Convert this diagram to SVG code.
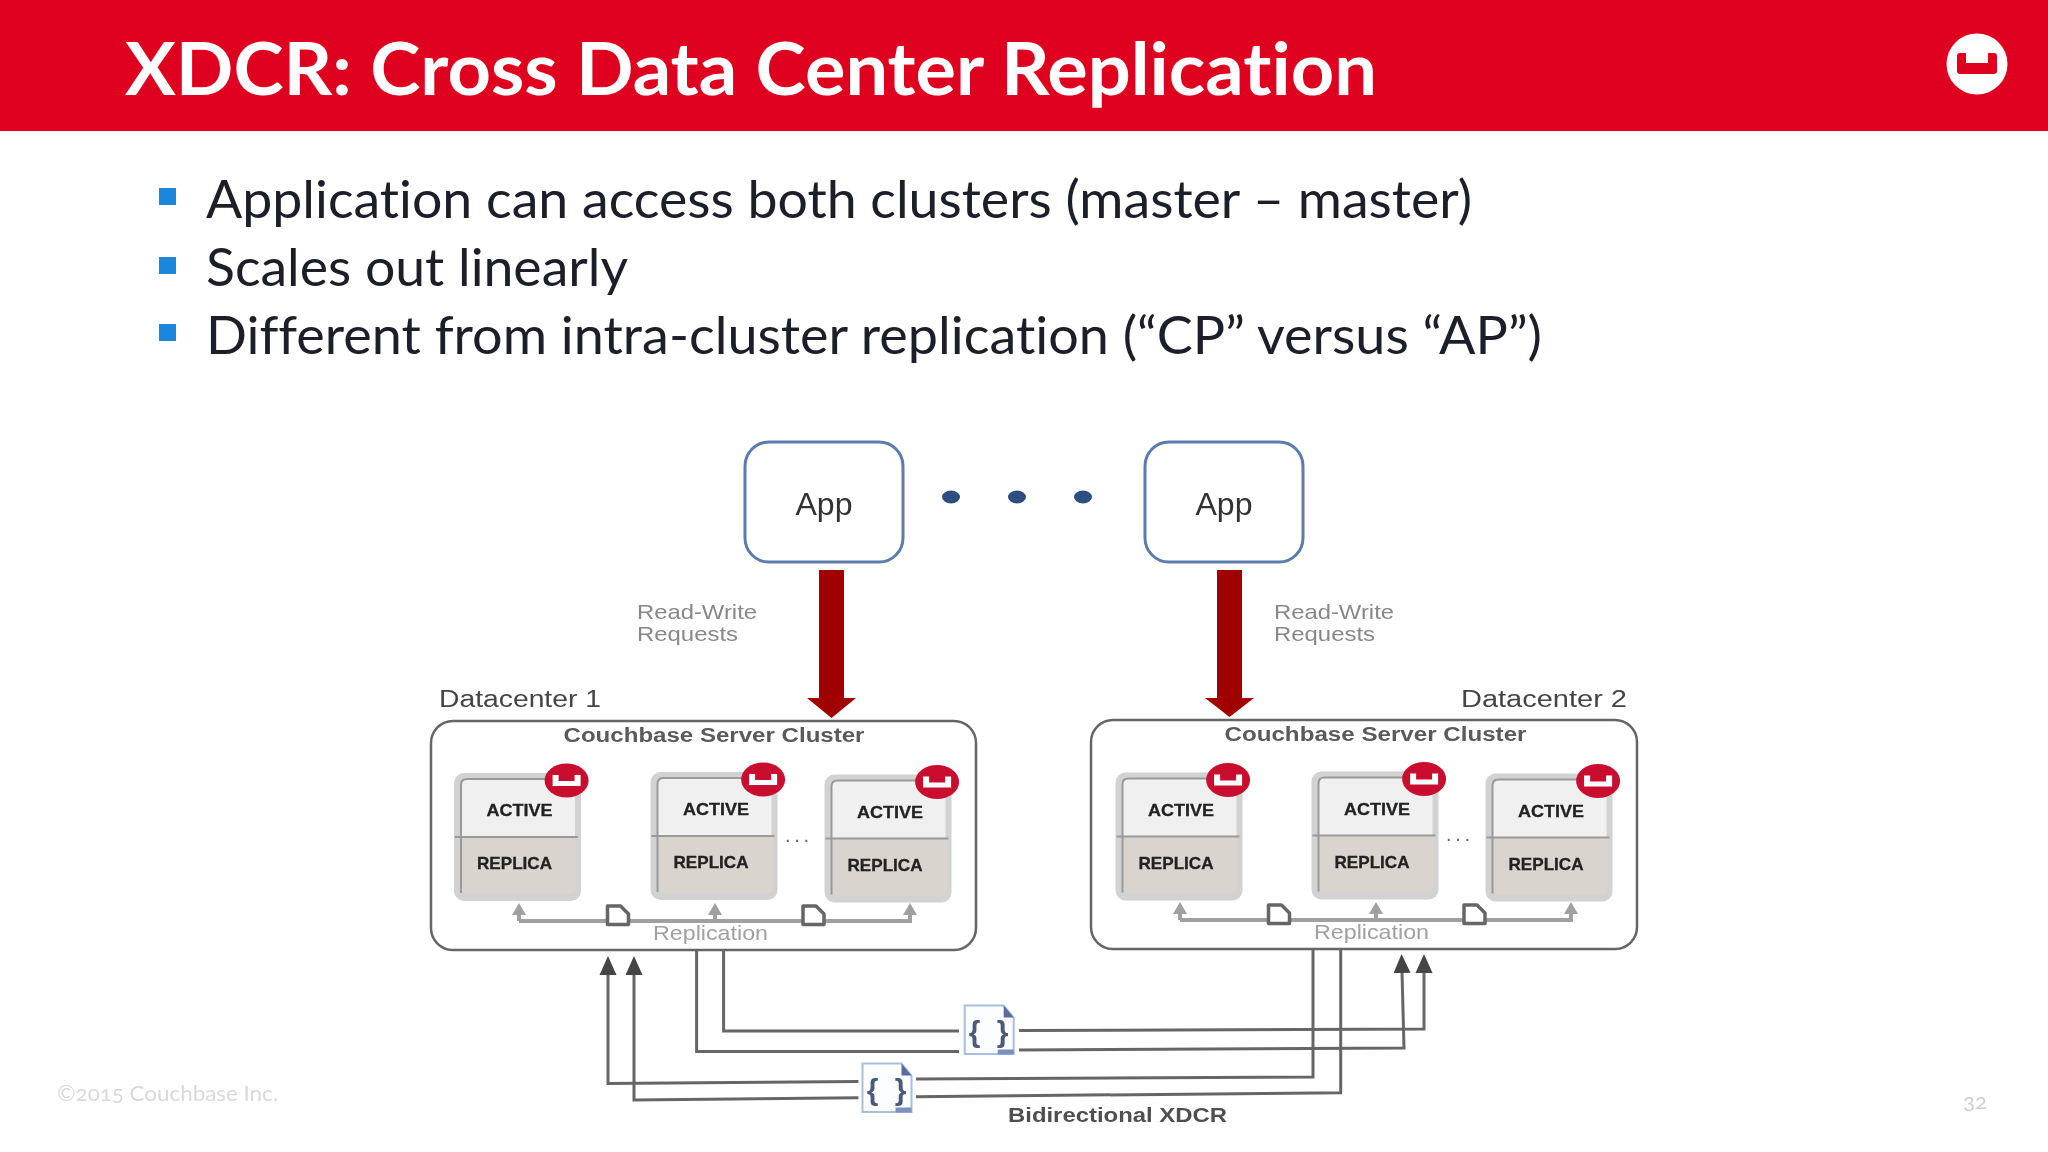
<svg xmlns="http://www.w3.org/2000/svg" width="2048" height="1152" viewBox="0 0 2048 1152">
<style>
.sans{font-family:"Liberation Sans",Arial,sans-serif}
.lato{font-family:Lato,"Open Sans",sans-serif;font-variant-ligatures:none}
.body{font-size:53px;fill:#1e1e28}
.bul{fill:#1a87dc}
.app-box{fill:#fff;stroke:#5b7cab;stroke-width:3}
.app-t{font-size:31px;fill:#333;text-anchor:middle}
.rw{font-size:21px;fill:#888}
.dc{font-size:23px;fill:#444}
.cl{fill:#fff;stroke:#666;stroke-width:2.5}
.clt{font-size:20px;font-weight:bold;fill:#5a5a5a}
.act{font-size:17px;font-weight:bold;fill:#222;stroke:#222;stroke-width:.3}
.rep{font-size:21px;fill:#a0a0a0}
.dots{font-size:20px;fill:#666}
.red{fill:#a00000}
.x{fill:none;stroke:#666;stroke-width:3;marker-end:url(#dk)}
.xp{fill:none;stroke:#666;stroke-width:3}
.g{fill:none;stroke:#a0a0a0;stroke-width:4}
.ga{fill:none;stroke:#a0a0a0;stroke-width:4;marker-end:url(#gr)}
.doc{fill:#fff;stroke:#666;stroke-width:3.5;stroke-linejoin:round}
.bd{font-size:30px;font-weight:bold;fill:#4a5a7a;text-anchor:middle}
</style>
<defs>
<filter id="soft" x="0" y="0" width="100%" height="100%" filterUnits="userSpaceOnUse"><feGaussianBlur stdDeviation="0.7"/></filter>
<marker id="dk" markerUnits="userSpaceOnUse" markerWidth="19" markerHeight="20" viewBox="0 0 19 20" refX="1" refY="10" orient="auto"><path d="M0 1.5 L19 10 L0 18.500Z" fill="#444"/></marker>
<marker id="gr" markerUnits="userSpaceOnUse" markerWidth="12" markerHeight="14" viewBox="0 0 12 14" refX="1" refY="7" orient="auto"><path d="M0 0 L12 7 L0 14Z" fill="#a0a0a0"/></marker>
<g id="body">
<rect x="0" y="0" width="127" height="128" rx="10" fill="#d2d2d2"/>
<path d="M7 12 Q7 6 13 6 H121 V64 H7Z" fill="#f0f0f0"/>
<path d="M7 64 H122 V115 Q122 121 116 121 H13 Q7 121 7 115Z" fill="#d9d5ce"/>
<path d="M7 120 V12 Q7 6 13 6 H118" fill="none" stroke="#999" stroke-width="2"/>
<path d="M1 64 H124" stroke="#999" stroke-width="2"/>
<ellipse cx="112.600" cy="7.500" rx="22" ry="17" fill="#c8102e"/>
<path d="M98.600 2 H104.600 V8 H120.600 V2 H126.600 V13 H98.600Z" fill="#fff"/>
</g>
<g id="repdoc"><path class="doc" d="M0 0 H13 L21 8 V18.500 H0Z"/></g>
<g id="xdoc">
<path d="M0 0 H39 L49 12 V48.500 H0Z" fill="#fcfdff" stroke="#a5bfdf" stroke-width="2"/>
<path d="M39 0 L49 12 H39Z" fill="#5a6a9a"/>
<rect x="33" y="44" width="16" height="5" fill="#7f8fc0"/>
</g>
</defs>

<rect width="2048" height="1152" fill="#fff"/>
<g id="header">
<rect width="2048" height="131" fill="#df001f"/>
<text class="lato" x="125" y="95" font-size="72" font-weight="700" fill="#fff" textLength="1252" lengthAdjust="spacingAndGlyphs">XDCR: Cross Data Center Replication</text>
<circle cx="1977" cy="64" r="30.500" fill="#fff"/>
<path d="M1957 56 Q1957 53 1960 53 H1966 V63 H1988 V53 H1994 Q1997 53 1997 56 V71 Q1997 74 1994 74 H1960 Q1957 74 1957 71Z" fill="#df001f"/>
</g>
<g id="bullets">
<rect class="bul" x="159" y="188" width="17" height="17"/>
<rect class="bul" x="159" y="257" width="17" height="17"/>
<rect class="bul" x="159" y="324" width="17" height="17"/>
<text class="lato body" x="206" y="218" textLength="1266" lengthAdjust="spacingAndGlyphs">Application can access both clusters (master – master)</text>
<text class="lato body" x="206" y="286" textLength="422" lengthAdjust="spacingAndGlyphs">Scales out linearly</text>
<text class="lato body" x="206" y="354" textLength="1336" lengthAdjust="spacingAndGlyphs">Different from intra-cluster replication (“CP” versus “AP”)</text>
</g>

<g id="diagram" filter="url(#soft)">
<g id="app-1"><rect class="app-box" x="745" y="442" width="158" height="120" rx="24"/><text class="sans app-t" x="824" y="515" textLength="57" lengthAdjust="spacingAndGlyphs">App</text></g>
<g id="app-2"><rect class="app-box" x="1145" y="442" width="158" height="120" rx="24"/><text class="sans app-t" x="1224" y="515" textLength="57" lengthAdjust="spacingAndGlyphs">App</text></g>
<g id="ellipsis-dots" fill="#2f4d80"><ellipse cx="951" cy="497" rx="9" ry="6.500"/><ellipse cx="1017" cy="497" rx="9" ry="6.500"/><ellipse cx="1083" cy="497" rx="9" ry="6.500"/></g>

<g id="labels">
<text class="sans rw" x="637" y="619" textLength="120" lengthAdjust="spacingAndGlyphs">Read-Write</text>
<text class="sans rw" x="637" y="641" textLength="101" lengthAdjust="spacingAndGlyphs">Requests</text>
<text class="sans rw" x="1274" y="619" textLength="120" lengthAdjust="spacingAndGlyphs">Read-Write</text>
<text class="sans rw" x="1274" y="641" textLength="101" lengthAdjust="spacingAndGlyphs">Requests</text>
<text class="sans dc" x="439" y="707" textLength="162" lengthAdjust="spacingAndGlyphs">Datacenter 1</text>
<text class="sans dc" x="1461" y="707" textLength="166" lengthAdjust="spacingAndGlyphs">Datacenter 2</text>
</g>

<g id="cluster-1">
<rect class="cl" x="431" y="721" width="545" height="229" rx="22"/>
<text class="sans clt" x="563.500" y="742" textLength="301" lengthAdjust="spacingAndGlyphs">Couchbase Server Cluster</text>
<text class="sans rep" x="653" y="940" textLength="115" lengthAdjust="spacingAndGlyphs">Replication</text>
<text class="sans dots" x="785" y="842" textLength="24">...</text>
</g>
<g id="cluster-2">
<rect class="cl" x="1091" y="720" width="546" height="229" rx="22"/>
<text class="sans clt" x="1224.500" y="741" textLength="302" lengthAdjust="spacingAndGlyphs">Couchbase Server Cluster</text>
<text class="sans rep" x="1314" y="939" textLength="115" lengthAdjust="spacingAndGlyphs">Replication</text>
<text class="sans dots" x="1446" y="841" textLength="24">...</text>
</g>

<g id="node-1-1" transform="translate(454 773)"><use href="#body"/><text class="sans act" x="32.500" y="43" textLength="66" lengthAdjust="spacingAndGlyphs">ACTIVE</text><text class="sans act" x="23" y="96" textLength="75" lengthAdjust="spacingAndGlyphs">REPLICA</text></g>
<g id="node-1-2" transform="translate(650.500 772)"><use href="#body"/><text class="sans act" x="32.500" y="43" textLength="66" lengthAdjust="spacingAndGlyphs">ACTIVE</text><text class="sans act" x="23" y="96" textLength="75" lengthAdjust="spacingAndGlyphs">REPLICA</text></g>
<g id="node-1-3" transform="translate(824.500 774.500)"><use href="#body"/><text class="sans act" x="32.500" y="43" textLength="66" lengthAdjust="spacingAndGlyphs">ACTIVE</text><text class="sans act" x="23" y="96" textLength="75" lengthAdjust="spacingAndGlyphs">REPLICA</text></g>
<g id="node-2-1" transform="translate(1115.500 772.500)"><use href="#body"/><text class="sans act" x="32.500" y="43" textLength="66" lengthAdjust="spacingAndGlyphs">ACTIVE</text><text class="sans act" x="23" y="96" textLength="75" lengthAdjust="spacingAndGlyphs">REPLICA</text></g>
<g id="node-2-2" transform="translate(1311.500 771.500)"><use href="#body"/><text class="sans act" x="32.500" y="43" textLength="66" lengthAdjust="spacingAndGlyphs">ACTIVE</text><text class="sans act" x="23" y="96" textLength="75" lengthAdjust="spacingAndGlyphs">REPLICA</text></g>
<g id="node-2-3" transform="translate(1485.500 773.500)"><use href="#body"/><text class="sans act" x="32.500" y="43" textLength="66" lengthAdjust="spacingAndGlyphs">ACTIVE</text><text class="sans act" x="23" y="96" textLength="75" lengthAdjust="spacingAndGlyphs">REPLICA</text></g>

<g id="connectors">
<polygon class="red" points="819,570 844,570 844,698 856,698 831.500,718 807,698 819,698"/>
<polygon class="red" points="1217,570 1242,570 1242,698 1254,698 1229.500,717 1205,698 1217,698"/>

<path class="g" d="M519 921 H912"/>
<path class="ga" d="M519 921 V914"/><path class="ga" d="M715 921 V914"/><path class="ga" d="M910 921 V914"/>
<use href="#repdoc" x="607.500" y="906"/><use href="#repdoc" x="803" y="906"/>
<path class="g" d="M1180 920 H1573"/>
<path class="ga" d="M1180 920 V913"/><path class="ga" d="M1376 920 V913"/><path class="ga" d="M1571 920 V913"/>
<use href="#repdoc" x="1268.500" y="905"/><use href="#repdoc" x="1464" y="905"/>

<path class="xp" d="M723.600 950 V1031 H959"/><path class="x" d="M1019 1030.600 L1424 1029 V972"/>
<path class="xp" d="M696.600 950 V1051.400 H959"/><path class="x" d="M1019 1050 L1404 1048 L1402 972"/>
<path class="xp" d="M1313 949 V1077 L916 1079"/><path class="x" d="M858.500 1081.600 L608 1083.600 V974"/>
<path class="xp" d="M1340.700 949 V1092.700 L916 1096.700"/><path class="x" d="M858.500 1097.700 L634 1100 V974"/>
</g>

<g id="xdcr-doc-1" transform="translate(964.700 1005.500)"><use href="#xdoc"/><text class="sans bd" x="10" y="36">{</text><text class="sans bd" x="38" y="36">}</text></g>
<g id="xdcr-doc-2" transform="translate(862.500 1063.500)"><use href="#xdoc"/><text class="sans bd" x="10" y="36">{</text><text class="sans bd" x="38" y="36">}</text></g>
<text id="xdcr-label" class="sans" x="1008" y="1122" font-size="20" font-weight="bold" fill="#505050" textLength="219" lengthAdjust="spacingAndGlyphs">Bidirectional XDCR</text>
</g>

<g id="footer">
<text class="lato" x="57" y="1101" font-size="22" fill="#d9d9d9" textLength="221" lengthAdjust="spacingAndGlyphs" style="font-variant-numeric:oldstyle-nums">©2015 Couchbase Inc.</text>
<text class="lato" x="1963" y="1109" font-size="22" fill="#d0d0d0" textLength="24" lengthAdjust="spacingAndGlyphs" style="font-variant-numeric:oldstyle-nums">32</text>
</g>
</svg>
